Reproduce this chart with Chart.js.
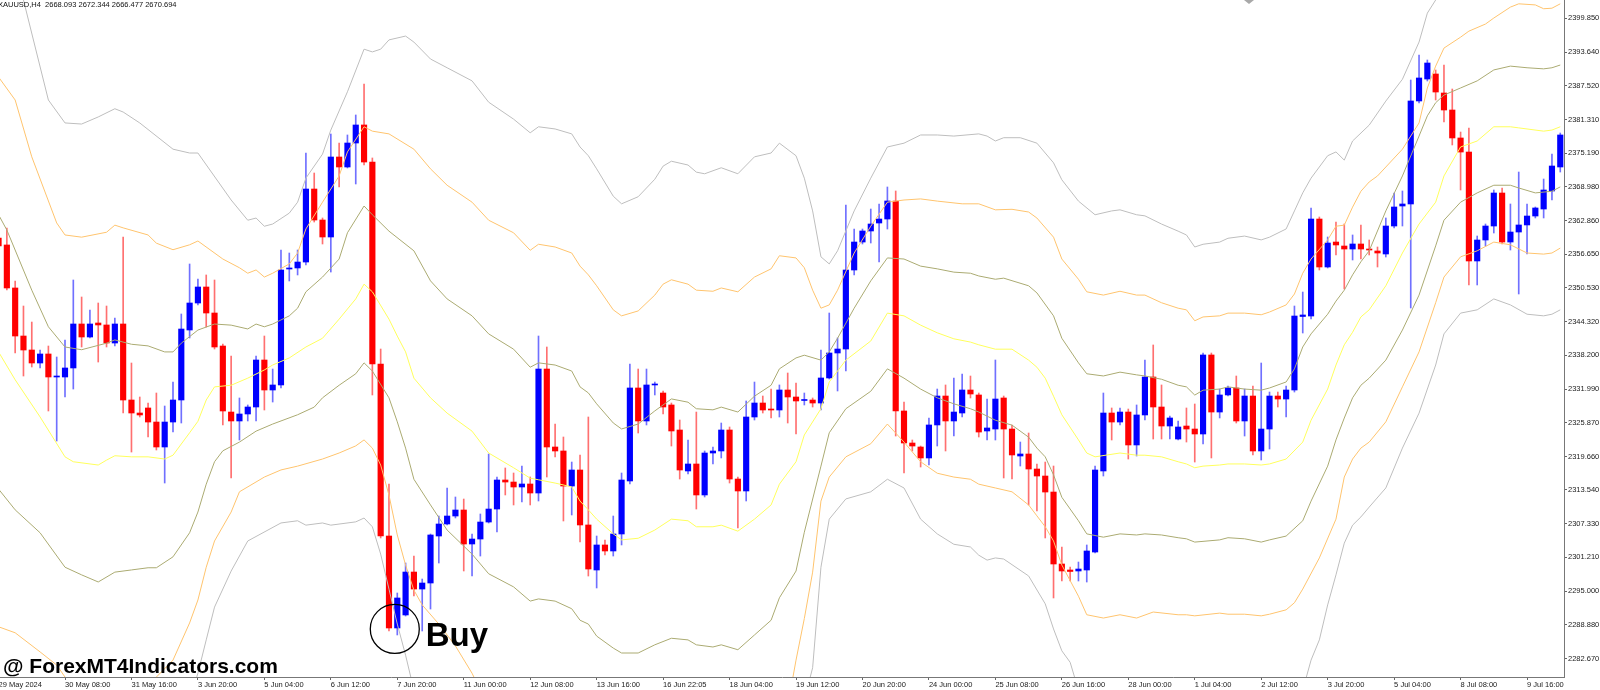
<!DOCTYPE html>
<html>
<head>
<meta charset="utf-8">
<title>XAUUSD H4</title>
<script src="https://cdn.jsdelivr.net/npm/chart.js@4.4.0/dist/chart.umd.min.js"></script>
<style>
  html, body { margin: 0; padding: 0; background: #fff; overflow: hidden; }
  #wrap { position: relative; width: 1600px; height: 690px; }
</style>
</head>
<body>
<div id="wrap"><canvas id="chart"></canvas></div>
<script>
// time axis labels, one every 8 bars
const timeLabels = ["29 May 2024", "30 May 08:00", "31 May 16:00", "3 Jun 20:00", "5 Jun 04:00", "6 Jun 12:00",
  "7 Jun 20:00", "11 Jun 00:00", "12 Jun 08:00", "13 Jun 16:00", "16 Jun 22:05", "18 Jun 04:00",
  "19 Jun 12:00", "20 Jun 20:00", "24 Jun 00:00", "25 Jun 08:00", "26 Jun 16:00", "28 Jun 00:00",
  "1 Jul 04:00", "2 Jul 12:00", "3 Jul 20:00", "5 Jul 04:00", "8 Jul 08:00", "9 Jul 16:00"];

const priceTicks = [2399.850, 2393.640, 2387.520, 2381.310, 2375.190, 2368.980, 2362.860, 2356.650,
  2350.530, 2344.320, 2338.200, 2331.990, 2325.870, 2319.660, 2313.540, 2307.330, 2301.210,
  2295.000, 2288.880, 2282.670];

const openPrices = [
  2359.65, 2358.37, 2350.50, 2341.71, 2339.15, 2336.77, 2338.42, 2334.21, 2334.21, 2335.86,
  2343.91, 2341.53, 2344.09, 2343.73, 2340.43, 2343.91, 2330.00, 2327.62, 2328.54, 2325.97,
  2321.40, 2325.97, 2330.00, 2342.81, 2347.75, 2350.68, 2345.92, 2339.88, 2327.80, 2326.16,
  2327.44, 2328.72, 2337.32, 2331.83, 2332.75, 2353.97, 2354.16, 2355.25, 2368.61, 2362.94,
  2359.83, 2374.47, 2372.64, 2377.03, 2380.33, 2373.55, 2336.59, 2305.11, 2288.28, 2290.66,
  2298.52, 2295.41, 2296.51, 2305.11, 2307.31, 2308.77, 2309.87, 2303.65, 2304.56, 2307.67,
  2310.05, 2315.36, 2314.99, 2314.08, 2314.63, 2312.98, 2335.67, 2321.40, 2320.67, 2314.26,
  2317.19, 2307.13, 2298.89, 2303.47, 2302.37, 2305.48, 2315.18, 2332.20, 2326.16, 2332.75,
  2331.28, 2329.09, 2324.51, 2317.01, 2318.29, 2312.62, 2320.30, 2320.67, 2324.51, 2315.54,
  2313.35, 2326.89, 2329.45, 2328.35, 2328.17, 2331.83, 2330.55, 2329.91, 2330.00, 2329.45,
  2334.03, 2338.60, 2339.33, 2353.79, 2358.91, 2360.93, 2362.39, 2363.12, 2366.42, 2327.99,
  2322.13, 2321.40, 2319.39, 2325.43, 2330.73, 2326.16, 2327.62, 2331.83, 2330.92, 2324.33,
  2324.69, 2330.37, 2324.69, 2319.75, 2320.12, 2317.37, 2316.09, 2313.16, 2299.99, 2298.89,
  2298.71, 2298.89, 2302.18, 2317.01, 2327.62, 2325.97, 2327.80, 2321.77, 2327.26, 2334.21,
  2328.72, 2325.24, 2322.86, 2325.24, 2324.69, 2323.78, 2338.24, 2327.80, 2330.92, 2332.20,
  2326.16, 2330.73, 2320.67, 2324.69, 2330.73, 2330.18, 2331.83, 2345.28, 2345.37, 2363.12,
  2354.34, 2358.91, 2358.18, 2357.63, 2358.55, 2357.54, 2357.27, 2356.72, 2361.84, 2365.50,
  2365.87, 2384.72, 2388.74, 2389.66, 2386.18, 2383.07, 2377.95, 2375.38, 2355.44, 2359.28,
  2361.84, 2367.88, 2358.91, 2360.74, 2362.03, 2363.67, 2364.95, 2368.25, 2372.64];

const highPrices = [
  2360.74, 2361.48, 2351.78, 2347.20, 2344.27, 2339.15, 2339.88, 2337.87, 2340.98, 2351.96,
  2348.85, 2346.47, 2347.75, 2347.20, 2345.01, 2359.83, 2336.77, 2330.55, 2329.45, 2331.28,
  2328.90, 2333.29, 2345.74, 2354.89, 2352.14, 2352.88, 2351.96, 2340.25, 2338.05, 2330.37,
  2329.09, 2338.05, 2341.71, 2335.67, 2357.45, 2356.90, 2357.45, 2375.20, 2371.54, 2363.31,
  2378.68, 2377.03, 2378.50, 2382.16, 2387.83, 2374.29, 2339.33, 2314.63, 2294.68, 2300.17,
  2301.45, 2297.24, 2305.48, 2308.77, 2313.90, 2312.25, 2311.88, 2305.48, 2309.14, 2320.12,
  2315.91, 2317.56, 2316.64, 2317.92, 2315.91, 2341.71, 2339.70, 2325.61, 2323.23, 2318.65,
  2319.94, 2326.89, 2305.11, 2304.38, 2308.77, 2316.64, 2336.59, 2335.67, 2335.67, 2333.29,
  2331.65, 2329.45, 2326.34, 2322.68, 2327.80, 2320.67, 2321.40, 2325.79, 2325.06, 2315.91,
  2329.82, 2333.29, 2330.73, 2332.01, 2332.75, 2334.94, 2333.11, 2331.28, 2330.37, 2339.15,
  2345.92, 2341.35, 2365.69, 2361.29, 2361.29, 2364.95, 2365.87, 2368.98, 2368.25, 2329.63,
  2322.68, 2321.58, 2326.71, 2332.01, 2332.75, 2334.03, 2334.76, 2334.39, 2331.28, 2330.18,
  2337.32, 2330.73, 2325.43, 2322.31, 2323.96, 2318.29, 2318.65, 2317.92, 2303.10, 2299.44,
  2300.35, 2303.47, 2317.92, 2331.28, 2328.54, 2328.54, 2328.35, 2329.09, 2337.32, 2340.07,
  2332.75, 2327.07, 2326.16, 2328.54, 2329.27, 2338.60, 2338.60, 2332.01, 2332.56, 2334.39,
  2332.01, 2332.56, 2336.77, 2331.46, 2331.46, 2332.56, 2347.20, 2349.76, 2365.14, 2363.49,
  2359.83, 2362.57, 2362.21, 2360.20, 2362.03, 2359.28, 2358.00, 2363.31, 2367.88, 2368.25,
  2388.56, 2393.14, 2392.22, 2390.39, 2391.31, 2386.91, 2379.04, 2379.78, 2360.01, 2362.21,
  2368.43, 2368.80, 2365.87, 2371.72, 2365.87, 2365.32, 2370.44, 2375.02, 2378.86];

const lowPrices = [
  2357.45, 2350.13, 2338.60, 2334.39, 2336.04, 2335.86, 2327.99, 2322.50, 2330.55, 2332.01,
  2339.70, 2341.35, 2336.95, 2339.70, 2339.88, 2327.62, 2320.48, 2326.89, 2323.23, 2320.85,
  2314.81, 2324.14, 2325.79, 2341.35, 2347.39, 2343.36, 2339.33, 2325.43, 2315.73, 2322.68,
  2326.16, 2326.16, 2328.17, 2329.63, 2332.20, 2351.78, 2352.88, 2354.71, 2362.57, 2358.55,
  2353.42, 2368.98, 2372.46, 2369.53, 2373.01, 2330.92, 2304.75, 2287.73, 2287.00, 2290.47,
  2294.13, 2287.73, 2291.75, 2300.17, 2307.13, 2308.41, 2298.71, 2297.79, 2301.45, 2307.49,
  2305.84, 2312.62, 2310.79, 2311.33, 2310.79, 2311.52, 2315.91, 2319.57, 2307.86, 2308.96,
  2304.01, 2297.79, 2295.60, 2301.64, 2301.45, 2303.47, 2314.63, 2323.96, 2325.43, 2330.92,
  2327.44, 2321.58, 2315.54, 2316.46, 2310.05, 2312.25, 2318.29, 2319.39, 2314.81, 2306.58,
  2311.52, 2326.34, 2327.62, 2326.71, 2326.89, 2325.79, 2323.78, 2329.09, 2328.72, 2328.17,
  2333.84, 2331.65, 2335.31, 2352.88, 2358.55, 2358.73, 2355.25, 2361.29, 2323.41, 2316.64,
  2320.67, 2317.74, 2318.11, 2321.58, 2320.67, 2323.41, 2326.89, 2330.37, 2323.23, 2322.68,
  2322.68, 2315.73, 2315.54, 2317.92, 2310.79, 2309.69, 2304.75, 2293.77, 2296.88, 2296.88,
  2296.88, 2296.69, 2302.00, 2316.09, 2322.68, 2325.43, 2319.20, 2319.75, 2326.34, 2322.86,
  2322.86, 2322.86, 2322.68, 2322.31, 2318.65, 2321.95, 2319.39, 2326.71, 2330.73, 2325.79,
  2323.41, 2319.94, 2319.02, 2321.03, 2328.72, 2326.89, 2331.46, 2342.26, 2344.82, 2353.79,
  2354.16, 2356.54, 2350.31, 2355.62, 2355.80, 2356.54, 2354.34, 2356.17, 2361.48, 2361.84,
  2346.84, 2384.35, 2388.38, 2384.90, 2380.87, 2376.67, 2368.43, 2351.05, 2351.05, 2358.18,
  2360.56, 2358.55, 2357.45, 2349.40, 2356.72, 2363.31, 2363.31, 2366.60, 2371.72];

const closePrices = [
  2358.18, 2350.50, 2341.71, 2339.15, 2336.77, 2338.42, 2334.21, 2334.39, 2335.86, 2343.91,
  2341.53, 2343.91, 2343.73, 2340.43, 2343.91, 2330.00, 2327.62, 2327.26, 2325.97, 2321.40,
  2325.97, 2330.00, 2342.99, 2347.75, 2350.68, 2345.92, 2339.70, 2327.99, 2326.16, 2327.44,
  2328.72, 2337.32, 2331.83, 2332.75, 2353.79, 2354.16, 2355.25, 2368.61, 2362.94, 2359.83,
  2374.47, 2372.64, 2377.03, 2380.33, 2373.55, 2336.59, 2305.11, 2288.28, 2293.77, 2298.52,
  2295.41, 2296.51, 2305.30, 2307.31, 2308.77, 2309.87, 2303.65, 2304.56, 2307.67, 2310.05,
  2315.36, 2314.99, 2314.08, 2314.63, 2312.98, 2335.67, 2321.40, 2320.67, 2314.26, 2317.19,
  2307.13, 2299.07, 2303.47, 2302.37, 2305.48, 2315.36, 2332.20, 2326.16, 2332.75, 2332.93,
  2328.72, 2324.33, 2317.19, 2318.29, 2312.62, 2320.30, 2320.67, 2324.51, 2315.54, 2313.35,
  2326.89, 2329.45, 2328.17, 2328.17, 2331.83, 2330.55, 2329.82, 2330.00, 2329.45, 2334.03,
  2338.60, 2339.33, 2353.79, 2358.91, 2360.93, 2362.21, 2363.12, 2366.42, 2327.99, 2322.13,
  2321.58, 2319.39, 2325.43, 2330.73, 2326.16, 2327.80, 2331.83, 2331.10, 2324.14, 2324.88,
  2330.18, 2324.69, 2319.94, 2320.12, 2317.37, 2316.09, 2313.16, 2299.99, 2298.71, 2298.62,
  2299.07, 2302.37, 2317.19, 2327.62, 2325.97, 2327.80, 2321.77, 2327.26, 2334.21, 2328.72,
  2325.24, 2326.71, 2325.06, 2324.69, 2323.78, 2338.24, 2327.80, 2330.92, 2332.20, 2326.16,
  2330.73, 2320.67, 2324.69, 2330.73, 2330.18, 2331.83, 2345.37, 2345.56, 2363.12, 2354.34,
  2358.73, 2358.37, 2357.63, 2358.55, 2357.63, 2357.45, 2356.90, 2361.84, 2365.32, 2365.87,
  2384.72, 2388.93, 2391.67, 2386.36, 2383.07, 2377.95, 2375.38, 2355.44, 2359.28, 2361.84,
  2367.88, 2358.91, 2360.74, 2362.03, 2363.67, 2365.14, 2368.43, 2372.82, 2378.50];

// band lines as [bar, price]; null = line leaves the window
const grayUpper = [[0,2419.7],[3,2403.2],[6,2384.9],[8,2380.7],[10,2380.5],[12,2381.8],[14,2383.3],[15,2382.7],
  [17,2380.7],[21,2375.9],[23,2375.2],[24,2375.2],[28,2366.6],[30,2362.9],[31,2363.3],[32,2361.8],[33,2362.2],
  [35,2364.2],[36,2366.2],[37,2370.6],[39,2375.0],[40,2379.4],[42,2386.4],[44,2394.2],[45,2393.7],[46,2394.2],
  [47,2395.9],[49,2396.6],[50,2395.5],[52,2392.4],[54,2390.8],[57,2388.4],[59,2384.5],[62,2381.4],[64,2378.9],
  [65,2380.0],[67,2379.6],[69,2378.7],[70,2376.3],[71,2374.7],[72,2372.3],[74,2367.3],[75,2365.9],[77,2367.2],
  [79,2370.4],[80,2372.8],[81,2373.7],[83,2373.0],[84,2371.7],[85,2371.4],[87,2372.5],[89,2371.4],[91,2374.5],
  [93,2375.2],[94,2377.0],[96,2374.7],[97,2370.6],[98,2364.6],[99,2356.2],[100,2354.9],[101,2357.3],[103,2364.6],
  [105,2370.6],[107,2376.3],[109,2377.0],[111,2378.5],[113,2378.5],[115,2378.3],[118,2378.7],[119,2378.3],
  [120,2377.4],[121,2378.0],[123,2378.0],[125,2377.0],[127,2373.4],[128,2370.3],[130,2366.4],[132,2363.9],
  [134,2364.6],[135,2364.8],[137,2363.9],[138,2363.7],[140,2362.2],[142,2360.9],[143,2360.2],[144,2358.0],
  [145,2358.5],[147,2358.9],[148,2359.6],[150,2360.0],[152,2359.3],[153,2359.8],[155,2361.3],[156,2364.6],
  [157,2367.9],[158,2370.6],[160,2374.7],[161,2375.4],[162,2373.9],[163,2377.4],[165,2380.3],[167,2384.7],
  [169,2388.7],[171,2395.5],[172,2400.8],[173,2403.2],[174,2408.7]];

const orangeUpper = [[0,2389.1],[2,2384.9],[4,2374.5],[7,2362.4],[8,2360.2],[10,2359.8],[13,2360.7],[14,2362.0],
  [15,2361.5],[18,2360.2],[19,2358.7],[21,2357.5],[23,2358.4],[24,2359.1],[27,2355.8],[29,2354.2],[30,2353.2],
  [31,2353.8],[32,2352.5],[33,2353.2],[35,2354.9],[36,2356.9],[37,2361.3],[39,2366.2],[41,2371.0],[42,2375.4],
  [44,2380.0],[45,2379.2],[47,2378.7],[50,2375.9],[52,2372.3],[54,2369.3],[57,2366.2],[59,2362.9],[62,2360.6],
  [64,2357.4],[65,2358.5],[67,2358.0],[69,2356.9],[70,2354.5],[71,2352.9],[72,2350.9],[74,2346.5],[75,2345.4],
  [77,2346.3],[79,2349.2],[80,2351.2],[81,2352.0],[83,2351.2],[84,2350.1],[86,2349.9],[87,2350.5],[89,2349.8],
  [91,2352.5],[93,2354.0],[94,2356.4],[96,2356.0],[97,2354.2],[98,2350.1],[99,2346.8],[100,2347.4],[101,2350.1],
  [103,2356.9],[105,2361.8],[107,2366.2],[109,2366.6],[111,2366.8],[113,2366.4],[116,2365.9],[118,2365.9],
  [120,2364.8],[122,2364.9],[124,2364.4],[125,2363.3],[127,2359.8],[128,2355.8],[130,2352.1],[131,2349.8],
  [133,2349.2],[135,2349.9],[137,2349.2],[138,2349.2],[140,2347.8],[142,2346.8],[143,2346.5],[144,2344.5],
  [145,2345.2],[147,2345.4],[148,2345.9],[150,2345.9],[152,2345.6],[153,2346.1],[155,2347.4],[156,2349.4],
  [157,2353.2],[158,2355.8],[160,2359.3],[161,2361.8],[162,2362.0],[163,2365.3],[164,2368.2],[165,2369.9],
  [166,2371.0],[169,2375.9],[171,2380.7],[172,2387.1],[173,2391.1],[174,2394.4],[176,2396.4],[177,2397.5],
  [179,2398.8],[180,2399.9],[182,2401.9],[183,2402.5],[185,2402.3],[186,2401.6],[187,2401.7],[188,2402.5]];

const oliveUpper = [[0,2363.9],[1,2361.1],[4,2350.1],[6,2343.4],[8,2339.7],[10,2339.2],[13,2340.4],[14,2341.0],
  [16,2340.2],[18,2339.9],[20,2338.8],[21,2338.8],[22,2340.4],[24,2342.8],[26,2343.9],[28,2343.7],[30,2343.0],
  [31,2343.9],[32,2343.4],[33,2343.9],[35,2345.4],[36,2346.8],[37,2349.8],[39,2352.5],[41,2355.8],[42,2360.6],
  [44,2365.5],[45,2363.9],[47,2360.9],[50,2357.3],[52,2351.8],[54,2348.5],[57,2345.4],[59,2342.1],[62,2339.3],
  [64,2336.0],[65,2336.8],[67,2336.4],[69,2335.3],[70,2332.4],[71,2331.3],[72,2329.3],[74,2325.8],[75,2324.7],
  [77,2325.6],[79,2328.0],[81,2330.2],[83,2329.6],[84,2328.4],[86,2328.2],[87,2328.7],[89,2327.8],[91,2330.7],
  [93,2332.7],[94,2335.7],[96,2337.7],[97,2338.2],[99,2337.3],[100,2338.8],[101,2341.3],[103,2346.8],[105,2351.8],
  [107,2356.0],[109,2355.8],[111,2354.5],[113,2354.0],[115,2353.4],[117,2353.2],[118,2352.7],[120,2352.1],
  [121,2352.3],[124,2350.9],[125,2349.6],[127,2345.4],[128,2341.3],[130,2336.8],[131,2334.8],[133,2334.4],
  [135,2335.1],[137,2334.6],[138,2334.4],[140,2333.8],[142,2332.7],[143,2332.4],[144,2330.9],[145,2331.8],
  [147,2332.0],[148,2332.4],[150,2332.0],[152,2331.8],[153,2332.2],[155,2333.3],[156,2335.7],[157,2339.7],
  [158,2342.1],[160,2345.7],[161,2348.1],[162,2350.1],[163,2352.9],[164,2355.3],[165,2357.3],[167,2364.6],
  [169,2371.0],[171,2378.3],[172,2382.0],[173,2384.4],[174,2385.8],[176,2387.1],[178,2388.4],[180,2390.4],
  [182,2391.1],[184,2390.8],[186,2390.6],[187,2390.8],[188,2391.3]];

const yellowMid = [[0,2338.8],[2,2333.7],[5,2326.9],[8,2319.6],[9,2318.7],[12,2318.1],[13,2319.0],[14,2319.8],
  [16,2319.6],[18,2319.6],[20,2319.2],[21,2319.9],[23,2324.0],[24,2326.1],[25,2330.0],[26,2332.4],[28,2332.7],
  [30,2334.0],[32,2335.5],[33,2336.4],[35,2337.7],[37,2339.7],[39,2341.3],[41,2344.8],[43,2348.5],[44,2351.2],
  [45,2349.8],[47,2344.8],[48,2341.7],[49,2338.8],[50,2334.0],[52,2330.4],[54,2327.6],[57,2324.3],[59,2320.3],
  [62,2317.6],[64,2315.7],[65,2315.4],[67,2314.8],[69,2314.1],[70,2311.5],[71,2309.9],[72,2308.2],[74,2305.5],
  [75,2304.4],[77,2304.7],[79,2306.2],[81,2308.2],[83,2307.9],[84,2306.8],[86,2306.8],[87,2307.1],[89,2306.0],
  [91,2308.2],[93,2310.8],[94,2314.6],[96,2318.7],[97,2323.6],[99,2328.4],[100,2333.3],[102,2337.3],[105,2340.8],
  [107,2345.9],[109,2345.4],[111,2343.7],[113,2342.3],[115,2341.2],[117,2340.6],[118,2340.1],[120,2339.3],
  [122,2339.3],[124,2337.3],[125,2336.0],[126,2334.0],[127,2330.7],[128,2327.3],[130,2322.7],[131,2320.3],
  [132,2319.6],[135,2320.3],[137,2319.9],[138,2319.9],[140,2319.6],[142,2318.7],[143,2318.3],[144,2317.6],
  [145,2317.9],[147,2318.1],[148,2318.3],[150,2318.3],[152,2318.1],[153,2318.3],[155,2319.2],[157,2322.3],
  [158,2326.3],[160,2332.0],[161,2336.4],[162,2340.1],[163,2342.4],[164,2345.2],[165,2346.5],[167,2350.9],
  [169,2356.9],[171,2362.2],[173,2366.2],[174,2371.0],[176,2376.3],[178,2377.4],[180,2380.0],[182,2380.0],
  [183,2379.8],[186,2379.2],[187,2379.4],[188,2380.0]];

const oliveLower = [[0,2313.7],[2,2309.9],[5,2305.7],[8,2299.4],[10,2298.0],[12,2296.7],[14,2298.5],[16,2298.9],
  [18,2299.3],[19,2299.3],[21,2301.3],[23,2305.7],[24,2309.5],[25,2314.6],[26,2318.7],[27,2320.7],[29,2322.3],
  [31,2324.3],[33,2325.6],[36,2327.3],[38,2328.7],[39,2330.4],[41,2332.7],[43,2334.8],[44,2336.8],[45,2335.3],
  [47,2330.4],[48,2326.0],[49,2321.2],[50,2315.5],[52,2310.8],[54,2306.2],[57,2301.8],[59,2298.2],[62,2295.8],
  [64,2293.2],[65,2293.6],[67,2293.2],[69,2291.8],[70,2289.7],[71,2289.0],[72,2286.8],[74,2284.6],[75,2283.7],
  [77,2283.7],[79,2285.2],[81,2286.4],[83,2286.1],[84,2285.2],[86,2284.8],[87,2285.2],[89,2284.3],[91,2287.0],
  [93,2289.7],[94,2293.8],[96,2298.7],[97,2305.8],[99,2317.9],[100,2324.0],[102,2328.4],[105,2331.6],[107,2335.7],
  [109,2334.0],[111,2332.0],[113,2330.4],[115,2329.3],[117,2328.4],[118,2327.8],[120,2326.3],[122,2325.4],
  [124,2323.2],[125,2321.2],[126,2319.6],[127,2316.3],[128,2312.2],[130,2307.9],[131,2305.5],[133,2304.9],
  [135,2305.5],[137,2305.3],[138,2305.5],[140,2305.3],[142,2304.8],[143,2304.6],[144,2304.0],[147,2304.4],
  [148,2304.8],[150,2304.6],[152,2304.0],[153,2304.4],[155,2305.1],[157,2307.9],[158,2311.5],[160,2317.9],
  [161,2322.7],[162,2326.7],[163,2330.4],[164,2332.7],[165,2334.0],[167,2337.3],[169,2342.8],[171,2349.2],
  [173,2358.2],[174,2362.9],[176,2366.2],[178,2367.9],[180,2369.3],[182,2369.3],[183,2368.8],[185,2367.9],
  [187,2368.2],[188,2369.0]];

const orangeLower = [[0,2288.5],[2,2287.4],[5,2283.9],[7,2281.5],[8,2279.3],[9,2276.9],[10,null],
  [17,null],[18,2275.5],[19,2279.3],[21,2282.4],[23,2289.2],[24,2293.4],[25,2299.4],[26,2304.2],[28,2309.5],
  [29,2313.2],[32,2315.9],[34,2317.2],[36,2317.9],[39,2319.2],[41,2320.3],[43,2321.6],[44,2322.7],[45,2321.2],
  [46,2318.1],[47,2312.6],[48,2305.3],[49,2299.8],[50,2295.2],[51,2292.5],[53,2289.0],[55,2285.0],[57,2280.0],
  [58,2276.9],[59,null],[94,null],[95,2274.0],[96,2282.4],[97,2290.0],[98,2298.5],[99,2311.5],[100,2315.9],
  [102,2319.6],[105,2322.0],[107,2325.6],[109,2322.3],[111,2318.7],[113,2316.6],[115,2315.9],[117,2315.5],
  [118,2314.6],[120,2313.9],[122,2313.2],[124,2310.8],[125,2308.8],[126,2306.8],[127,2304.2],[128,2299.8],
  [130,2294.1],[131,2290.7],[133,2290.1],[135,2290.7],[137,2290.1],[139,2291.2],[142,2290.7],[143,2290.7],
  [144,2290.5],[147,2291.0],[148,2290.8],[150,2290.8],[152,2290.5],[153,2290.8],[155,2291.6],[156,2292.9],
  [157,2295.4],[159,2301.1],[161,2308.2],[162,2315.9],[163,2319.2],[164,2321.2],[165,2322.3],[167,2326.0],
  [169,2332.4],[171,2338.8],[173,2347.8],[174,2352.5],[176,2356.2],[178,2357.3],[180,2358.9],[182,2358.4],
  [184,2356.9],[186,2356.7],[187,2356.9],[188,2357.8]];

const grayLower = [[23,2275.1],[24,2280.0],[25,2286.1],[26,2292.1],[28,2298.7],[30,2304.2],[34,2307.5],
  [36,2307.9],[37,2307.1],[39,2307.5],[40,2307.1],[43,2307.7],[44,2308.4],[45,2306.8],[46,2301.8],[47,2295.4],
  [48,2289.0],[49,2283.3],[50,2276.9],[51,null],[96,null],[97,2275.1],[98,2281.0],[99,2299.4],[100,2308.2],
  [102,2311.9],[105,2313.2],[107,2315.5],[109,2313.9],[111,2308.2],[113,2305.5],[115,2303.6],[117,2303.1],
  [118,2301.6],[119,2300.7],[120,2301.1],[121,2300.9],[124,2297.8],[126,2292.7],[127,2288.1],[128,2284.1],
  [129,2282.0],[130,2276.9],[131,null],[156,null],[157,2276.9],[158,2282.4],[159,2286.1],[160,2292.5],
  [161,2298.0],[162,2303.8],[163,2307.1],[164,2308.6],[165,2310.4],[167,2313.9],[169,2321.2],[171,2327.6],
  [173,2336.4],[174,2342.1],[176,2345.9],[178,2346.5],[180,2348.5],[182,2347.4],[184,2345.7],[186,2345.4],
  [187,2345.7],[188,2346.5]];

// where the "Buy" mark sits (bar index, price)
const buySignal = { bar: 47.7, price: 2288.1 };

// visible window of the MT4 chart
const X_MIN = 0.175, X_MAX = 188.45;
const Y_MIN = 2279.31, Y_MAX = 2403.2;

const axisFont = { family: "'Liberation Sans', Arial, sans-serif", size: 7.5 };

const isUp = openPrices.map((o, i) => closePrices[i] >= o);
const wickData = openPrices.map((o, i) => ({ x: i, y: [lowPrices[i], highPrices[i]] }));
const bodyData = openPrices.map((o, i) => ({ x: i, y: [o, closePrices[i]] }));

function bandSet(label, pairs, color) {
  return {
    type: 'line', label: label, order: 0,
    data: pairs.map(p => ({ x: p[0], y: p[1] })),
    borderColor: color, borderWidth: 1, pointRadius: 0, tension: 0, spanGaps: false, fill: false
  };
}

const overlay = {
  id: 'overlay',
  afterDraw(chart) {
    const ctx = chart.ctx;
    const xs = chart.scales.x, ys = chart.scales.y;
    ctx.save();
    // top-left symbol line
    ctx.fillStyle = '#111';
    ctx.font = "7.5px 'Liberation Sans', Arial, sans-serif";
    ctx.textBaseline = 'top';
    ctx.fillText('XAUUSD,H4  2668.093 2672.344 2666.477 2670.694', -2, 1);
    // small shift marker on top edge
    ctx.fillStyle = '#a8a8a8';
    ctx.beginPath();
    ctx.moveTo(1244, 0); ctx.lineTo(1254, 0); ctx.lineTo(1249, 4); ctx.closePath();
    ctx.fill();
    // buy circle + label
    const cx = xs.getPixelForValue(buySignal.bar);
    const cy = ys.getPixelForValue(buySignal.price);
    ctx.strokeStyle = '#000';
    ctx.lineWidth = 1.3;
    ctx.beginPath();
    ctx.arc(cx, cy, 24.5, 0, Math.PI * 2);
    ctx.stroke();
    ctx.fillStyle = '#000';
    ctx.textBaseline = 'alphabetic';
    ctx.font = "bold 33px 'Liberation Sans', Arial, sans-serif";
    ctx.fillText('Buy', cx + 31, cy + 17);
    // watermark
    ctx.font = "bold 21px 'Liberation Sans', Arial, sans-serif";
    ctx.fillText('@ ForexMT4Indicators.com', 3, 673);
    ctx.restore();
  }
};

new Chart(document.getElementById('chart'), {
  type: 'bar',
  data: {
    datasets: [
      bandSet('upper 3', grayUpper, '#bebebe'),
      bandSet('upper 2', orangeUpper, '#ffc46e'),
      bandSet('upper 1', oliveUpper, '#abab72'),
      bandSet('middle', yellowMid, '#ffff5c'),
      bandSet('lower 1', oliveLower, '#abab72'),
      bandSet('lower 2', orangeLower, '#ffc46e'),
      bandSet('lower 3', grayLower, '#bebebe'),
      {
        label: 'body', order: 1, data: bodyData, grouped: false,
        barThickness: 5.5, minBarLength: 1, borderWidth: 0, borderSkipped: false,
        backgroundColor: isUp.map(u => u ? '#0000ff' : '#ff0000')
      },
      {
        label: 'wick', order: 2, data: wickData, grouped: false,
        barThickness: 1, borderWidth: 0, borderSkipped: false,
        backgroundColor: isUp.map(u => u ? '#7070ff' : '#ff7070')
      }
    ]
  },
  options: {
    responsive: true,
    maintainAspectRatio: false,
    animation: false,
    layout: { padding: 0 },
    plugins: { legend: { display: false }, tooltip: { enabled: false }, title: { display: false } },
    scales: {
      x: {
        type: 'linear', position: 'bottom', min: X_MIN, max: X_MAX, offset: false,
        afterBuildTicks: s => { s.ticks = timeLabels.map((t, k) => ({ value: k * 8 })); },
        afterFit: s => { s.height = 13; s.paddingLeft = 0; s.paddingRight = 0; },
        ticks: {
          autoSkip: false, maxRotation: 0, minRotation: 0, align: 'start', padding: 0,
          color: '#1a1a1a', font: axisFont,
          callback: v => timeLabels[Math.round(v / 8)]
        },
        grid: { drawOnChartArea: false, drawTicks: true, tickLength: 3, color: '#666', offset: false },
        border: { display: true, color: '#777' }
      },
      y: {
        type: 'linear', position: 'right', min: Y_MIN, max: Y_MAX,
        afterBuildTicks: s => { s.ticks = priceTicks.map(v => ({ value: v })); },
        afterFit: s => { s.width = 36; s.paddingTop = 0; s.paddingBottom = 0; },
        ticks: { padding: 1, color: '#1a1a1a', font: axisFont, callback: v => v.toFixed(3) },
        grid: { drawOnChartArea: false, drawTicks: true, tickLength: 3, color: '#666' },
        border: { display: true, color: '#777' }
      }
    }
  },
  plugins: [overlay]
});
</script>
</body>
</html>
